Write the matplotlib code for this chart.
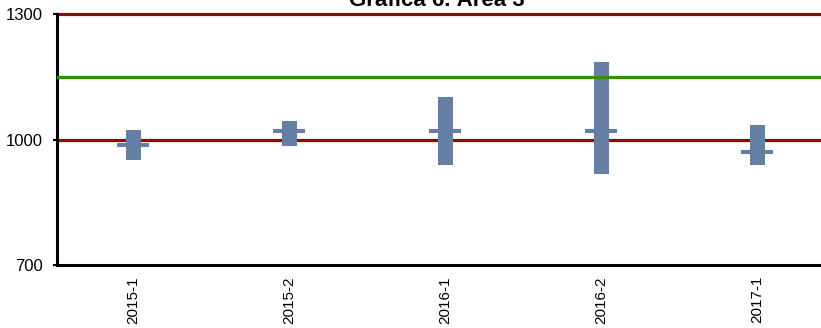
import numpy as np
import matplotlib
matplotlib.use('Agg')
import matplotlib.pyplot as plt

plt.rcParams['font.family'] = ['Liberation Sans', 'DejaVu Sans']

# periods and the range / mean
periods = ['2015-1', '2015-2', '2016-1', '2016-2', '2017-1']
lows = [951, 985, 939, 918, 939]
highs = [1023, 1044, 1102, 1185, 1035]
means = [988, 1021, 1021, 1021, 971]

# reference lines
limit_lines = [1000, 1300]
target_line = 1150

bar_color = '#647ea6'
red = '#8c0a0a'
green = '#339000'

fig = plt.figure(figsize=(8.21, 3.28), dpi=100)
ax = fig.add_axes([57 / 821, 63 / 328, 778 / 821, 251 / 328])

x = np.arange(len(periods))
lows = np.array(lows)
highs = np.array(highs)

for y in limit_lines:
    ax.axhline(y, color=red, lw=2.3, zorder=1, clip_on=False)

ax.bar(x, highs - lows, bottom=lows, width=0.096, color=bar_color, zorder=2)
ax.plot(x, means, linestyle='none', marker='_', markersize=23,
        markeredgewidth=2.9, color=bar_color, zorder=3)

ax.axhline(target_line, color=green, lw=2.3, zorder=4)

ax.set_xlim(-0.49, len(periods) - 0.5)
ax.set_ylim(700, 1300)
ax.set_yticks([700, 1000, 1300])
ax.set_xticks(x)
ax.set_xticklabels(periods, rotation=90)

ax.tick_params(axis='y', length=3, width=1.5, pad=7, labelsize=12)
ax.tick_params(axis='x', length=0, pad=8, labelsize=11)

for side in ['top', 'right']:
    ax.spines[side].set_visible(False)
for side in ['left', 'bottom']:
    ax.spines[side].set_linewidth(2.2)
    ax.spines[side].set_color('black')

fig.text(0.532, 1 - 6 / 328, 'Gráfica 6. Área 3', ha='center',
         va='baseline', fontsize=16, fontweight='bold')

fig.savefig('out.png', dpi=100)
